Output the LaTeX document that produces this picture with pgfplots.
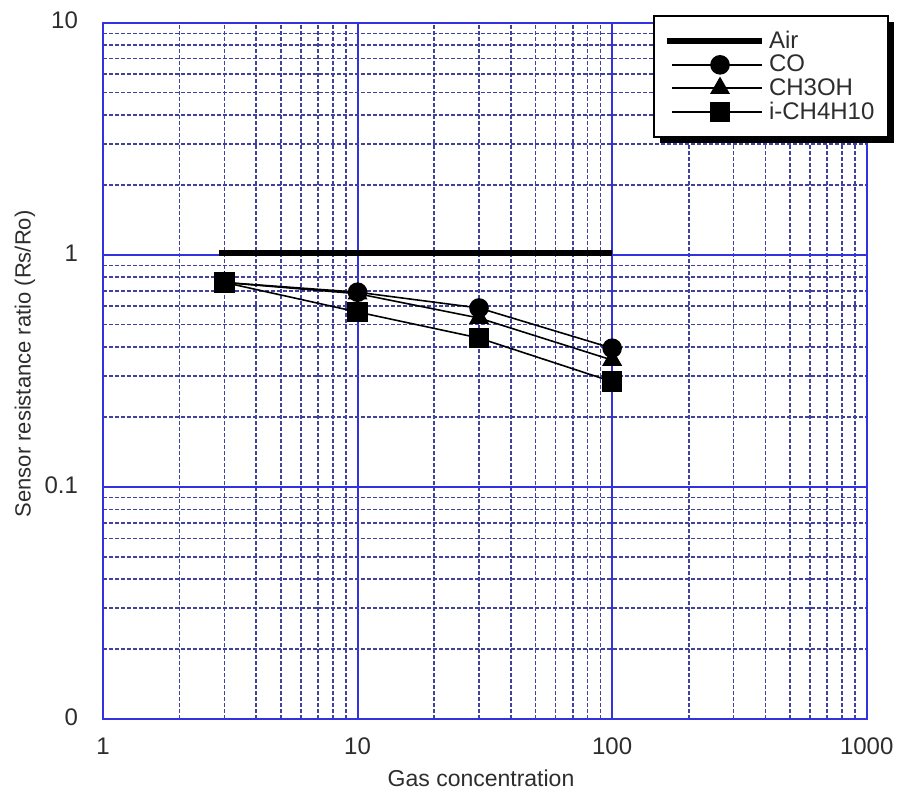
\documentclass[border=0pt]{standalone}
\usepackage{fontspec}
\setmainfont{Liberation Sans}
\usepackage{pgfplots}
\pgfplotsset{compat=1.18}
\usetikzlibrary{shadows}
\definecolor{gridblue}{RGB}{50,50,225}
\definecolor{minorblue}{RGB}{65,65,160}
\definecolor{txt}{RGB}{45,45,45}
\makeatletter
\tikzset{no preactions/.code={\let\tikz@preactions\pgfutil@empty}}
\makeatother
\pgfplotsset{
  airleg/.style={legend image code/.code={\draw[no preactions, ##1] (0pt,0pt) -- (47.5pt,0pt);}},
  markleg/.style={legend image code/.code={\draw[no preactions, ##1, mark repeat=2, mark phase=2] plot coordinates {(2.5pt,0pt) (26.5pt,0pt) (47.5pt,0pt)};}},
}

\begin{document}
\begin{tikzpicture}
\begin{loglogaxis}[
  at={(51.5pt,36.5pt)}, anchor=south west,
  scale only axis, width=381.85pt, height=348.15pt,
  xmin=1, xmax=1000, ymin=0.01, ymax=10,
  xtick={1,10,100,1000}, xticklabels={1,10,100,1000},
  ytick={0.01,0.1,1,10}, yticklabels={0,0.1,1,10},
  grid=both,
  major grid style={gridblue, line width=1pt, solid},
  minor grid style={minorblue, line width=0.8pt, dash pattern=on 2pt off 1pt},
  axis line style={gridblue, line width=1pt},
  major tick length=0pt, minor tick length=0pt,
  tick label style={font=\fontsize{12}{14}\selectfont, text=txt},
  xticklabel style={anchor=center, yshift=-13.5pt},
  yticklabel style={anchor=east, xshift=-9pt, yshift=1pt},
  xlabel={Gas concentration},
  ylabel={Sensor resistance ratio (Rs/Ro)},
  every axis x label/.style={at={(rel axis cs:0.495,0)}, anchor=center, yshift=-29.5pt, font=\fontsize{11.5}{13}\selectfont, text=txt},
  every axis y label/.style={at={(rel axis cs:0,0.51)}, anchor=center, xshift=-39pt, rotate=90, font=\fontsize{11}{13}\selectfont, text=txt},
  legend style={at={(rel axis cs:0.7202,1.0111)}, anchor=north west,
    draw=black, line width=1pt, fill=white,
    drop shadow={shadow xshift=3pt, shadow yshift=-3pt, fill=black, opacity=1},
    font=\fontsize{12}{14}\selectfont, text=txt,
    inner xsep=5pt, inner ysep=7pt, row sep=0.8pt,
    nodes={inner xsep=2pt, inner ysep=0.5pt, no preactions}},
  legend cell align=left,
]
\addplot[black, line width=3pt, airleg]
  coordinates {(2.85,1.02) (100,1.02)};
\addlegendentry{Air}
\addplot[black, line width=0.8pt, mark=*, mark size=4.5pt, mark options={solid, fill=black}, markleg]
  coordinates {(3,0.76) (10,0.69) (30,0.59) (100,0.396)};
\addlegendentry{CO}
\addplot[black, line width=0.8pt, mark=triangle*, mark size=5pt, mark options={solid, fill=black}, markleg]
  coordinates {(3,0.76) (10,0.68) (30,0.534) (100,0.352)};
\addlegendentry{CH3OH}
\addplot[black, line width=0.8pt, mark=square*, mark size=4.75pt, mark options={solid, fill=black}, markleg]
  coordinates {(3,0.76) (10,0.567) (30,0.438) (100,0.284)};
\addlegendentry{i-CH4H10}
\end{loglogaxis}
\pgfresetboundingbox
\path (0pt,0pt) rectangle (448.5pt,396pt);
\end{tikzpicture}
\end{document}
